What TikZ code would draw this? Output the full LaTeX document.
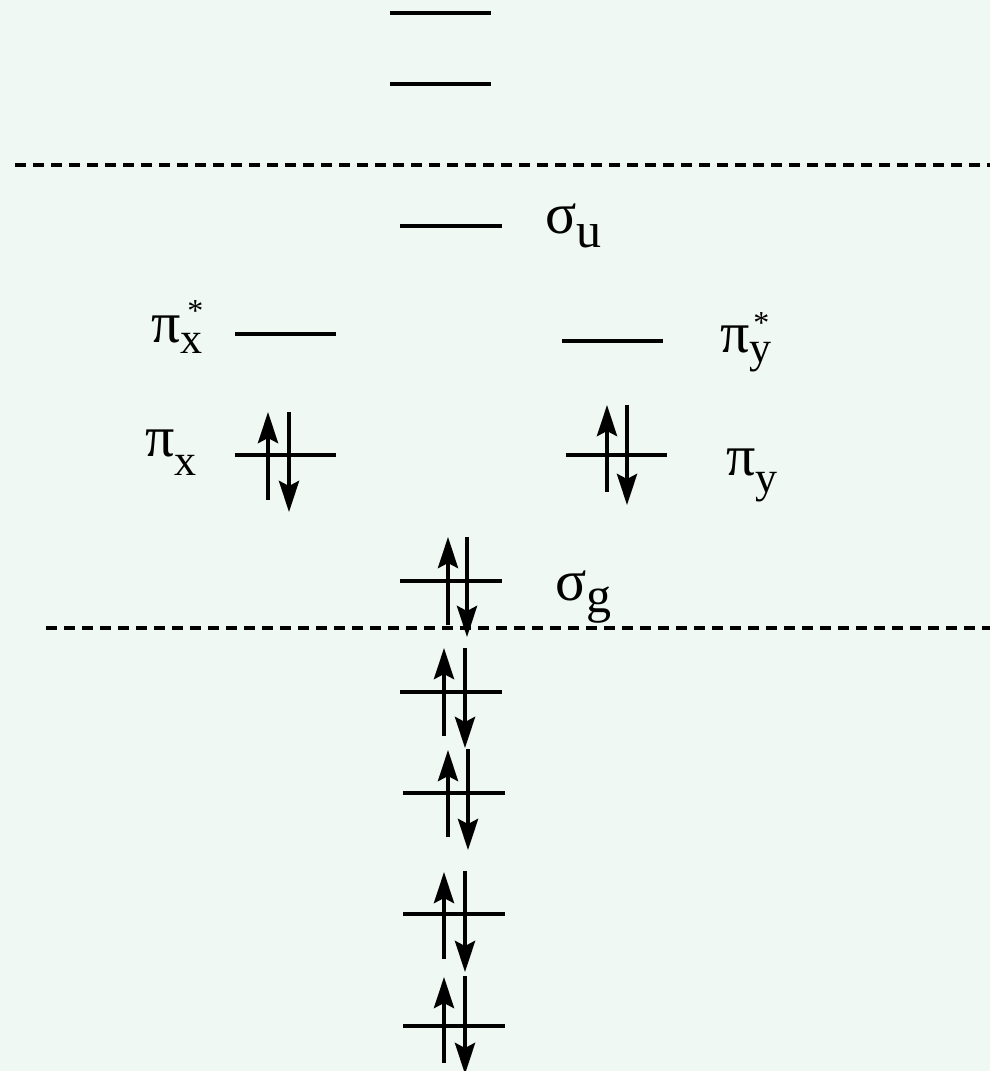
\documentclass[tikz,border=0pt]{standalone}
\usepackage{fontspec}
\setmainfont{Liberation Serif}
\usetikzlibrary{arrows.meta}
\definecolor{bgc}{RGB}{239,248,243}
\newcommand\mainf{\fontsize{58}{58}\selectfont}
\newcommand\pisub{\fontsize{44}{44}\selectfont}
\newcommand\sigsub{\fontsize{50}{50}\selectfont}
\newcommand\supf{\fontsize{32}{32}\selectfont}
\begin{document}
\begin{tikzpicture}[x=1pt,y=-1pt,
  level/.style={line width=4pt},
  spin/.style={line width=4.5pt,-{Stealth[length=31pt,width=20pt,inset=5pt]}},
  sep/.style={line width=3.5pt,dash pattern=on 11pt off 7pt},
  lbl/.style={inner sep=0pt,anchor=base west}]
\fill[bgc] (0,0) rectangle (990,1071);
\useasboundingbox (0,0) rectangle (990,1071);
% empty levels
\draw[level] (390,13) -- (491,13);
\draw[level] (390,84) -- (491,84);
\draw[level] (400,226) -- (502,226);
\draw[level] (235,334) -- (336,334);
\draw[level] (562,341) -- (663,341);
% separators
\draw[sep] (15,165) -- (990,165);
\draw[sep] (46,628) -- (990,628);
% filled levels
\draw[level] (235,455) -- (336,455);
\draw[spin] (268,500) -- (268,412);
\draw[spin] (289,412) -- (289,512);
\draw[level] (566,455) -- (667,455);
\draw[spin] (607,492) -- (607,405);
\draw[spin] (627,405) -- (627,505);
\draw[level] (400,581) -- (502,581);
\draw[spin] (448,625) -- (448,537);
\draw[spin] (467,537) -- (467,637);
\draw[level] (400,692) -- (502,692);
\draw[spin] (444,736) -- (444,648);
\draw[spin] (465,648) -- (465,748);
\draw[level] (403,793) -- (505,793);
\draw[spin] (448,837) -- (448,750);
\draw[spin] (468,749) -- (468,850);
\draw[level] (403,914) -- (505,914);
\draw[spin] (444,959) -- (444,872);
\draw[spin] (465,871) -- (465,972);
\draw[level] (403,1026) -- (505,1026);
\draw[spin] (444,1063) -- (444,977);
\draw[spin] (465,976) -- (465,1074);
% labels
\node[lbl] (su) at (545,233) {\mainf σ\raisebox{-14pt}{\sigsub u}};
\node[lbl] (pxs) at (151,342) {\mainf π\rlap{\hspace{7pt}\raisebox{21pt}{\supf *}}\raisebox{-11pt}{\pisub x}};
\node[lbl] (pys) at (720,352) {\mainf π\rlap{\hspace{4pt}\raisebox{19pt}{\supf *}}\raisebox{-10pt}{\pisub y}};
\node[lbl] (px) at (145,456) {\mainf π\raisebox{-19pt}{\pisub x}};
\node[lbl] (py) at (726,475) {\mainf π\raisebox{-17pt}{\pisub y}};
\node[lbl] (sg) at (555,600) {\mainf σ\raisebox{-12pt}{\sigsub g}};
\end{tikzpicture}
\end{document}
